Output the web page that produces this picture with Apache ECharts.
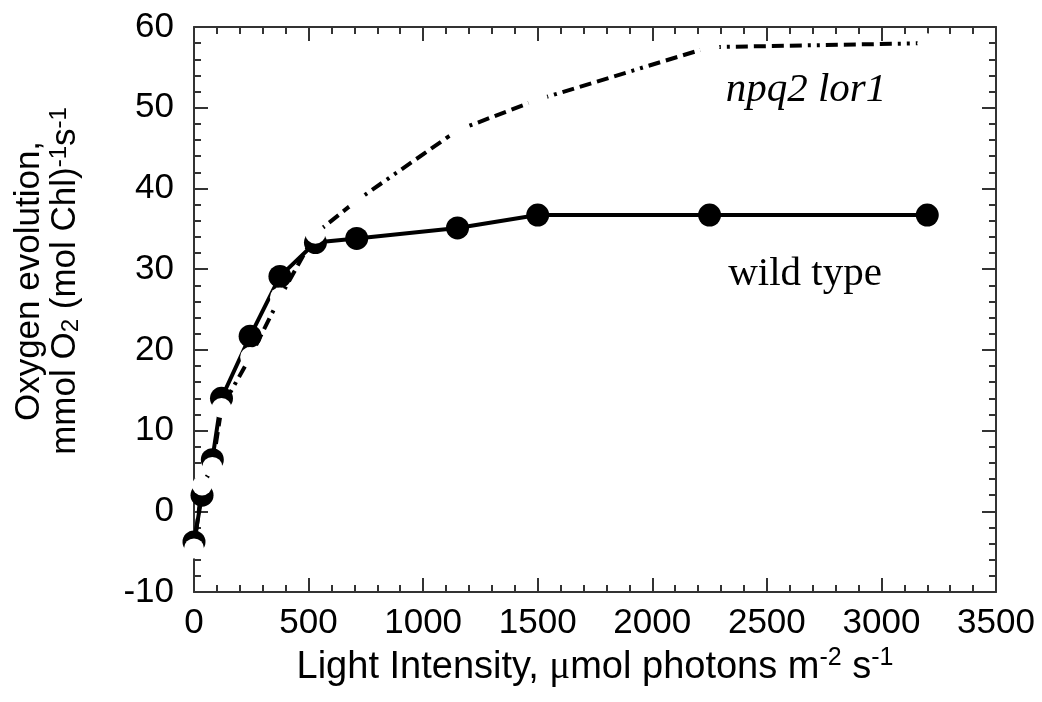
<!DOCTYPE html>
<html>
<head>
<meta charset="utf-8">
<script src="https://cdn.jsdelivr.net/npm/echarts@6/dist/echarts.min.js"></script>
<style>
  html, body { margin: 0; padding: 0; background: #fff; }
  #chart { width: 1042px; height: 702px; }
</style>
</head>
<body>
<div id="chart"></div>
<script>
// light intensity (umol photons m-2 s-1)
const lightX = [0, 35, 80, 120, 245, 375, 530, 710, 1150, 1500, 2250, 3200];
// oxygen evolution, wild type
const wildType = [-3.8, 2.0, 6.4, 14.0, 21.7, 29.1, 33.3, 33.8, 35.1, 36.7, 36.7, 36.7];
// oxygen evolution, npq2 lor1
const npq2lor1 = [-4.6, 3.2, 5.5, 12.8, 19.1, 26.5, 34.4, 38.5, 47.2, 51.0, 57.5, 58.0];

const xTicks = [0, 500, 1000, 1500, 2000, 2500, 3000, 3500];
const yTicks = [-10, 0, 10, 20, 30, 40, 50, 60];

const sansFont = "'Liberation Sans', Arial, sans-serif";
const serifFont = "'Liberation Serif', 'Times New Roman', serif";

const pairs = (xs, ys) => xs.map((x, i) => [x, ys[i]]);

const axisLine = { show: true, onZero: false, lineStyle: { color: '#333', width: 2 } };
const tick = { show: true, inside: true, length: 14, lineStyle: { color: '#333', width: 2 } };
const minor = { show: true, splitNumber: 5, length: 7, lineStyle: { color: '#333', width: 2 } };

// shared axis settings
function xAx(pos, labels) {
  return {
    type: 'value', position: pos,
    min: xTicks[0], max: xTicks[xTicks.length - 1], interval: 500,
    axisLine: axisLine, axisTick: tick, minorTick: minor,
    splitLine: { show: false },
    axisLabel: { show: labels, color: '#000', fontFamily: sansFont, fontSize: 35, margin: 14,
      formatter: v => String(v) }
  };
}
function yAx(pos, labels) {
  return {
    type: 'value', position: pos,
    min: yTicks[0], max: yTicks[yTicks.length - 1], interval: 10,
    axisLine: axisLine, axisTick: tick, minorTick: minor,
    splitLine: { show: false },
    axisLabel: { show: labels, color: '#000', fontFamily: sansFont, fontSize: 35, margin: 20,
      formatter: v => String(v) }
  };
}

const xMain = xAx('bottom', true);
xMain.name = '{n|Light Intensity, }{mu|\u03bc}{n|mol photons m}{sup|-2}{n| s}{sup|-1}';
xMain.nameLocation = 'middle';
xMain.nameGap = 52;
xMain.nameTextStyle = {
  rich: {
    n: { fontFamily: sansFont, fontSize: 38, color: '#000', lineHeight: 44 },
    mu: { fontFamily: serifFont, fontSize: 39, color: '#000', lineHeight: 44 },
    sup: { fontFamily: sansFont, fontSize: 25, color: '#000', lineHeight: 44, verticalAlign: 'top' }
  }
};

const chart = echarts.init(document.getElementById('chart'));
chart.setOption({
  animation: false,
  backgroundColor: '#fff',
  grid: { left: 194, right: 46, top: 27, bottom: 110, outerBoundsMode: 'none' },
  xAxis: [xMain, xAx('top', false)],
  yAxis: [yAx('left', true), yAx('right', false)],
  series: [
    {
      name: 'wild type',
      type: 'line',
      data: pairs(lightX, wildType),
      symbol: 'circle',
      symbolSize: 23,
      itemStyle: { color: '#000' },
      lineStyle: { color: '#000', width: 4 },
      z: 2
    },
    {
      name: 'npq2 lor1',
      type: 'line',
      data: pairs(lightX, npq2lor1),
      symbol: 'circle',
      symbolSize: 20,
      itemStyle: { color: '#fff', borderWidth: 0 },
      lineStyle: { color: '#000', width: 4, type: [12, 6, 12, 6, 12, 6, 12, 6, 3, 6, 3, 6] },
      z: 3
    }
  ],
  graphic: [
    {
      // y axis title, two lines, rotated
      type: 'text', x: 47, y: 281, rotation: Math.PI / 2,
      style: {
        text: '{n|Oxygen evolution,}\n{n|mmol O}{sub|2}{n| (mol Chl)}{sup|-1}{n|s}{sup|-1}',
        align: 'center', verticalAlign: 'middle',
        rich: {
          n: { fontFamily: sansFont, fontSize: 35, fill: '#000', lineHeight: 36 },
          sub: { fontFamily: sansFont, fontSize: 24, fill: '#000', lineHeight: 36, verticalAlign: 'bottom' },
          sup: { fontFamily: sansFont, fontSize: 24, fill: '#000', lineHeight: 36, verticalAlign: 'top' }
        }
      }
    },
    {
      type: 'text', x: 806, y: 90,
      style: {
        text: 'npq2 lor1', fill: '#000', fontFamily: serifFont, fontStyle: 'italic', fontSize: 41,
        align: 'center', verticalAlign: 'middle'
      }
    },
    {
      type: 'text', x: 805, y: 274,
      style: {
        text: 'wild type', fill: '#000', fontFamily: serifFont, fontSize: 41,
        align: 'center', verticalAlign: 'middle'
      }
    }
  ]
});
</script>
</body>
</html>
